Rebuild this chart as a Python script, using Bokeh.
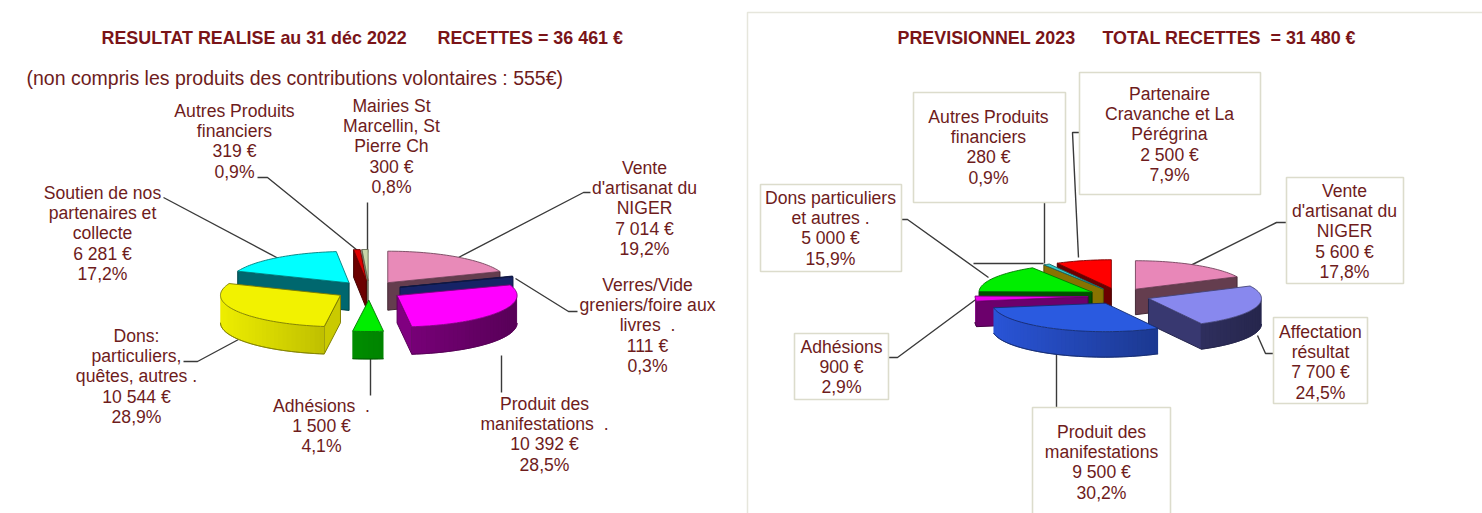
import math
from bokeh.plotting import figure
from bokeh.models import Range1d, ColumnDataSource
from bokeh.core.properties import value
from bokeh.embed import file_html
from bokeh.resources import INLINE

NB = "\u00a0"
# ---------- data ----------
left_names = [["Vente", "d'artisanat du", "NIGER"],
              ["Verres/Vide", "greniers/foire aux", "livres" + NB + NB + "."],
              ["Produit des", "manifestations" + NB + NB + "."],
              ["Adhésions" + NB + NB + "."],
              ["Dons:", "particuliers,", "quêtes, autres ."],
              ["Soutien de nos", "partenaires et", "collecte"],
              ["Autres Produits", "financiers"],
              ["Mairies St", "Marcellin, St", "Pierre Ch"]]
left_values = [7014, 111, 10392, 1500, 10544, 6281, 319, 300]
left_tops = ["#e88ab8", "#1c2c80", "#ff00ff", "#00ee00", "#f2f200", "#00ffff", "#e00000", "#c8d4a8"]
left_walls = ["#7d4d62", "#1c2c80", "#a000a0", "#00b000", "#eeee00", "#007a82", "#800000", "#9a9a80"]

right_names = [["Vente", "d'artisanat du", "NIGER"],
               ["Affectation", "résultat"],
               ["Produit des", "manifestations"],
               ["Adhésions"],
               ["Dons particuliers", "et autres ."],
               ["Autres Produits", "financiers"],
               ["Partenaire", "Cravanche et La", "Pérégrina"]]
right_values = [5600, 7700, 9500, 900, 5000, 280, 2500]
right_tops = ["#e887b8", "#8888ee", "#2a5ae0", "#ee00ee", "#00ee00", "#33cccc", "#ff0000"]
right_walls = ["#7d4d62", "#46468c", "#2a55d8", "#800080", "#006000", "#a08800", "#800000"]

title_color = "#7a1418"
text_color = "#6e1c1c"
line_color = "#3a3a3a"
font = "Liberation Sans"

# ---------- layout (page pixels) ----------
left_pie = dict(cx=368.5, cy=290, rx=120, ry=31.5, depth=27.5, ex=33, ey=9.5)
right_pie = dict(cx=1118.5, cy=295.5, rx=113, ry=28.5, depth=25.5, ex=31, ey=8)

left_label_pos = [(644, 167), (647, 284), (544, 403), (321, 405),
                  (136, 335), (102, 192), (234, 110), (391, 105)]
right_label_pos = [(1344, 190), (1320, 331), (1101, 431), (841, 346),
                   (830, 197), (988, 116), (1169, 93)]
right_boxes = [(1286, 1403, 177, 283), (1273, 1367, 317, 403), (1032, 1170, 407, 520),
               (794, 888, 333, 399), (760, 901, 184, 271), (913, 1065, 92, 202),
               (1079, 1260, 72, 194)]
left_leaders = [[(590, 192), (583, 192), (458, 257)],
                [(577, 311), (568, 311), (515, 278)],
                [(501, 355), (501, 392)],
                [(370, 357), (370, 395)],
                [(238, 339), (197, 361), (183, 361)],
                [(278, 258), (163, 197)],
                [(257, 177), (267, 177), (357, 250)],
                [(367, 202), (367, 252)]]
right_leaders = [[(1190, 265), (1276, 222), (1286, 222)],
                 [(1257, 335), (1265, 353), (1273, 353)],
                 [(1056, 353), (1056, 407)],
                 [(888, 357), (897, 357), (978, 297)],
                 [(901, 219), (907, 219), (988, 277)],
                 [(1044, 202), (1044, 263)],
                 [(973, 263), (1043, 263)],
                 [(1079, 132), (1072, 132), (1078, 257)]]


def shade(hexcol, f):
    r, g, b = (int(hexcol[i:i + 2], 16) for i in (1, 3, 5))
    return "#%02x%02x%02x" % (int(r * f), int(g * f), int(b * f))


def pie_polys(vals, tops, walls, g):
    total = sum(vals)
    slices, cum = [], 0.0
    for v, t, w in zip(vals, tops, walls):
        a0 = cum / total * 2 * math.pi
        cum += v
        a1 = cum / total * 2 * math.pi
        slices.append((a0, a1, t, w))
    slices.sort(key=lambda s: -math.cos((s[0] + s[1]) / 2))
    xs, ys, fc, lc, lw = [], [], [], [], []

    def add(px, py, f, l, w):
        xs.append(px); ys.append(py); fc.append(f); lc.append(l); lw.append(w)

    for a0, a1, top, wall in slices:
        mid = (a0 + a1) / 2
        ox = g["cx"] + g["ex"] * math.sin(mid)
        oy = g["cy"] - g["ey"] * math.cos(mid)
        ex = lambda a: ox + g["rx"] * math.sin(a)
        ey = lambda a: oy - g["ry"] * math.cos(a)
        d = g["depth"]
        dark = shade(wall, 0.55)
        # cut faces
        if math.sin(a1) > 0:
            f = shade(wall, 0.8)
            add([ox, ex(a1), ex(a1), ox], [oy, ey(a1), ey(a1) + d, oy + d], f, dark, 1)
        if math.sin(a0) < 0:
            f = shade(wall, 0.85)
            add([ox, ex(a0), ex(a0), ox], [oy, ey(a0), ey(a0) + d, oy + d], f, dark, 1)
        # outer wall, shaded along the arc (overlapping strips hide the seams)
        lo, hi = max(a0, math.pi / 2), min(a1, 3 * math.pi / 2)
        if hi > lo:
            n = max(2, int((hi - lo) / 0.04))
            step = (hi - lo) / n
            for i in range(n):
                b0 = lo + step * i
                b1 = min(hi, b0 + 2 * step)
                t = 1 - 0.45 * (math.sin(b0 + step / 2) + 1) / 2
                c = shade(wall, t)
                add([ex(b0), ex(b1), ex(b1), ex(b0)],
                    [ey(b0), ey(b1), ey(b1) + d, ey(b0) + d], c, c, 0)
            steps = [lo + step * i for i in range(n + 1)]
            add([ex(b) for b in steps] + [ex(b) for b in reversed(steps)],
                [ey(b) + d for b in steps] + [ey(b) + d for b in reversed(steps)],
                dark, dark, 0.8)
        # top face
        n = max(2, int((a1 - a0) / 0.03))
        steps = [a0 + (a1 - a0) * i / n for i in range(n + 1)]
        add([ox] + [ex(b) for b in steps], [oy] + [ey(b) for b in steps],
            top, shade(top, 0.5), 0.9)
    return dict(xs=xs, ys=ys, fc=fc, lc=lc, lw=lw)


def fmt(v, total):
    return f"{v:,}".replace(",", " ") + " €", f"{v / total * 100:.1f}%".replace(".", ",")


def labels(names, vals, pos, pitch=20.4):
    tx, ty, tt = [], [], []
    total = sum(vals)
    for nm, v, (x, y) in zip(names, vals, pos):
        for i, line in enumerate(nm + list(fmt(v, total))):
            tx.append(x); ty.append(y + i * pitch); tt.append(line)
    return dict(x=tx, y=ty, text=tt)


p = figure(width=1482, height=513, x_range=Range1d(0, 1482), y_range=Range1d(513, 0),
           output_backend="svg", toolbar_location=None, min_border=0,
           x_axis_location=None, y_axis_location=None, outline_line_color=None,
           background_fill_color="white")
p.grid.visible = False

# frame of the right panel
p.line([747, 747, 1482], [520, 12, 12], line_color="#e6e6dc", line_width=1.5)

# leaders
for seq in left_leaders + right_leaders:
    p.line([q[0] for q in seq], [q[1] for q in seq], line_color=line_color, line_width=1.4)

# label boxes
p.quad(left=[b[0] for b in right_boxes], right=[b[1] for b in right_boxes],
       top=[b[2] for b in right_boxes], bottom=[b[3] for b in right_boxes],
       fill_color="white", line_color="#dcdccc", line_width=1.6)

# pies
for vals, tops, walls, g in ((left_values, left_tops, left_walls, left_pie),
                             (right_values, right_tops, right_walls, right_pie)):
    src = ColumnDataSource(pie_polys(vals, tops, walls, g))
    p.patches("xs", "ys", source=src, fill_color="fc", line_color="lc", line_width="lw")

# slice labels
for names, vals, pos in ((left_names, left_values, left_label_pos),
                         (right_names, right_values, right_label_pos)):
    p.text("x", "y", text="text", source=ColumnDataSource(labels(names, vals, pos)),
           text_font=value(font), text_font_size="17.6px", text_color=text_color,
           text_align="center", text_baseline="middle")

# titles
titles = ["RESULTAT REALISE au 31 déc 2022", "RECETTES = 36 461 €",
          "PREVISIONNEL 2023", "TOTAL RECETTES" + NB + NB + "= 31 480 €"]
title_x = [101, 437, 897, 1102]
p.text(title_x, [37] * 4, text=titles, text_font=value(font), text_font_size="17.9px",
       text_font_style="bold", text_color=title_color, text_align="left", text_baseline="middle")
p.text([26], [77], text=["(non compris les produits des contributions volontaires : 555€)"],
       text_font=value(font), text_font_size="19.5px", text_color=text_color,
       text_align="left", text_baseline="middle")

open("out.html", "w").write(file_html(p, INLINE))
